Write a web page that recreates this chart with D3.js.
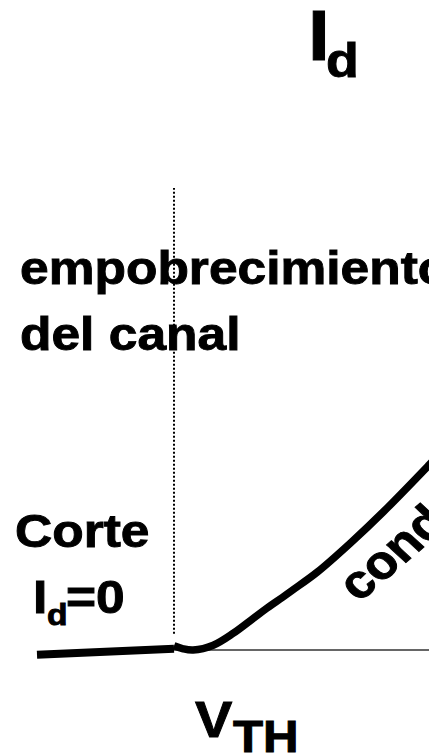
<!DOCTYPE html>
<html>
<head>
<meta charset="utf-8">
<script src="https://cdn.jsdelivr.net/npm/d3@7"></script>
<style>
  html, body { margin: 0; padding: 0; background: #fff; }
  svg { display: block; }
  text { font-family: "Liberation Sans", Arial, sans-serif; font-weight: bold; fill: #000; stroke: #000; stroke-width: 0.9; }
</style>
</head>
<body>
<svg id="chart" width="429" height="753"></svg>
<script>
// ---- data (Vgs in V, Id in mA; hand-drawn transfer characteristic) ----
const vth = 1.5;
const cutoffV = [0.0, 1.5];
const cutoffI = [-0.08, 0.02];
const condV = [1.50, 1.60, 1.71, 1.93, 2.15, 2.37, 2.52, 2.69, 2.80, 3.07, 3.43, 3.79, 4.29, 4.47];
const condI = [0.07, 0.02, 0.00, 0.08, 0.28, 0.53, 0.70, 0.88, 1.00, 1.30, 1.78, 2.30, 3.08, 3.37];
const axisV = [1.5, 4.7];
const guideI = [0.27, 7.7];
const labels = {
  title: "I", titleSub: "d",
  region1: ["empobrecimiento", "del canal"],
  cut: "Corte", cutEq: "=0",
  vthMain: "V", vthSub: "TH",
  cond: "conducción"
};

const W = 429, H = 753;
const svg = d3.select("#chart");
const x = d3.scaleLinear().domain([0, 4.5]).range([37, 37 + 4.5 * 91.33]);
const y = d3.scaleLinear().domain([0, 1]).range([650, 590]);

// thin zero axis
svg.append("line")
  .attr("x1", x(axisV[0])).attr("x2", x(axisV[1]))
  .attr("y1", y(0)).attr("y2", y(0))
  .attr("stroke", "#333").attr("stroke-width", 1.5);

// dotted threshold guide
svg.append("line")
  .attr("x1", x(vth)).attr("x2", x(vth))
  .attr("y1", y(guideI[0])).attr("y2", y(guideI[1]))
  .attr("stroke", "#000").attr("stroke-width", 2)
  .attr("stroke-dasharray", "2,2");

// cutoff segment
const cutData = cutoffV.map((v, i) => [v, cutoffI[i]]);
svg.append("path")
  .attr("d", d3.line().x(d => x(d[0])).y(d => y(d[1]))(cutData))
  .attr("fill", "none").attr("stroke", "#000").attr("stroke-width", 8);

// conduction curve
const condData = condV.map((v, i) => [v, condI[i]]);
svg.append("path")
  .attr("d", d3.line().curve(d3.curveCatmullRom.alpha(0.5)).x(d => x(d[0])).y(d => y(d[1]))(condData))
  .attr("fill", "none").attr("stroke", "#000").attr("stroke-width", 7.5)
  .attr("stroke-linejoin", "round");

const SX = 1.12;
function label(txt, px, py, fs, rot) {
  svg.append("text")
    .attr("transform", `translate(${px},${py}) scale(${SX},1)` + (rot ? ` rotate(${rot})` : ""))
    .attr("font-size", fs)
    .text(txt);
}

label(labels.title, 308, 60, 70);
label(labels.titleSub, 326, 77, 48);
label(labels.region1[0], 20, 284, 46);
label(labels.region1[1], 20, 350, 46);
label(labels.cut, 15, 547, 46);
label(labels.title, 33, 613, 46);
label(labels.titleSub, 47, 625, 30);
label(labels.cutEq, 66, 613, 46);
label(labels.vthMain, 195, 737, 50);
label(labels.vthSub, 233, 752, 44);
label(labels.cond, 359, 603, 47, -44);
</script>
</body>
</html>
